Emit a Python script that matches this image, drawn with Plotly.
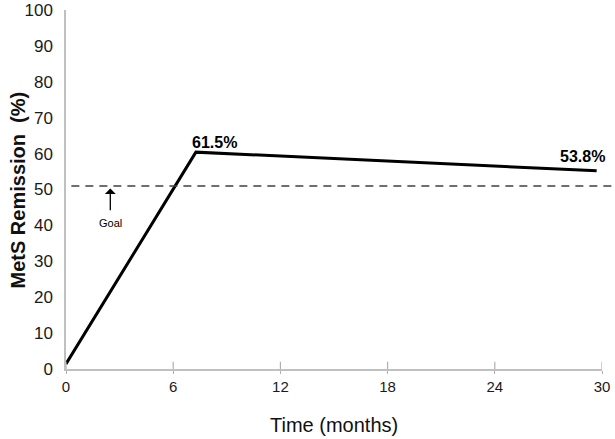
import plotly.graph_objects as go

# Data
time_months = [0, 7.27, 29.7]
remission_pct = [1.4, 60.4, 55.2]
point_labels = ["", "61.5%", "53.8%"]
goal_value = 51
x_tick_vals = [0, 6, 12, 18, 24, 30]
y_tick_vals = [0, 10, 20, 30, 40, 50, 60, 70, 80, 90, 100]

FONT = "Liberation Sans, Arial"
AXIS_GRAY = "#c0c0c0"

fig = go.Figure()

# Main line
fig.add_trace(go.Scatter(
    x=time_months, y=remission_pct, mode="lines",
    line=dict(color="black", width=3), cliponaxis=False,
    showlegend=False))

# Goal dashed line (extends slightly beyond the plot area, as in the reference)
fig.add_shape(type="line", xref="paper", yref="paper",
              x0=0.01, x1=1.03, y0=goal_value / 100, y1=goal_value / 100,
              line=dict(color="#404040", width=1.5, dash="8px,6px"))

# Point labels
fig.add_annotation(x=time_months[1], y=remission_pct[1], text="<b>" + point_labels[1] + "</b>",
                   showarrow=False, xanchor="center", yanchor="bottom", xshift=19, yshift=-1,
                   font=dict(family=FONT, size=16, color="black"))
fig.add_annotation(x=time_months[2], y=remission_pct[2], text="<b>" + point_labels[2] + "</b>",
                   showarrow=False, xanchor="center", yanchor="bottom", xshift=-14, yshift=4,
                   font=dict(family=FONT, size=16, color="black"))

# Goal arrow and label
fig.add_annotation(x=2.48, y=goal_value - 0.7, ax=2.48, ay=43.8, axref="x", ayref="y",
                   xref="x", yref="y", text="", showarrow=True, arrowhead=1, arrowsize=1.4,
                   arrowwidth=1.3, arrowcolor="black")
fig.add_annotation(x=2.48, y=40.6, text="Goal", showarrow=False,
                   font=dict(family=FONT, size=11, color="black"))

# Axis titles
fig.add_annotation(xref="paper", yref="paper", x=0.5, y=-0.156, text="Time (months)",
                   showarrow=False, xanchor="center", yanchor="middle",
                   font=dict(family=FONT, size=20, color="#111"))
fig.add_annotation(xref="paper", yref="paper", x=-0.0896, y=0.5, text="<b>MetS Remission  (%)</b>",
                   showarrow=False, xanchor="center", yanchor="middle", textangle=-90,
                   font=dict(family=FONT, size=20, color="#111"))

fig.update_layout(
    width=615, height=439,
    margin=dict(l=66, r=13, t=10, b=70),
    plot_bgcolor="white", paper_bgcolor="white",
    font=dict(family=FONT, color="#1a1a1a"),
    xaxis=dict(
        range=[0, 30], tickmode="array", tickvals=x_tick_vals, automargin=False,
        showgrid=False, zeroline=False, showline=True, linecolor=AXIS_GRAY, linewidth=1.5,
        ticks="outside", ticklen=3, tickcolor="#b0b0b0", tickwidth=1.2,
        tickfont=dict(size=15, color="#1a1a1a"),
    ),
    yaxis=dict(
        range=[0, 100], tickmode="array", tickvals=y_tick_vals, automargin=False,
        showgrid=False, zeroline=False, showline=True, linecolor=AXIS_GRAY, linewidth=1.5,
        ticks="", ticklabelstandoff=8, tickfont=dict(size=17, color="#1a1a1a"),
    ),
)

# Upward part of the x tick marks (reference ticks cross the axis line)
for tv in x_tick_vals:
    fig.add_shape(type="line", xref="x", yref="paper", x0=tv, x1=tv, y0=0, y1=0.02,
                  line=dict(color="#b0b0b0", width=1.2))

fig.write_html("out.html", config={"displayModeBar": False},
               post_script="document.body.style.margin='0';document.body.style.overflow='hidden';")
